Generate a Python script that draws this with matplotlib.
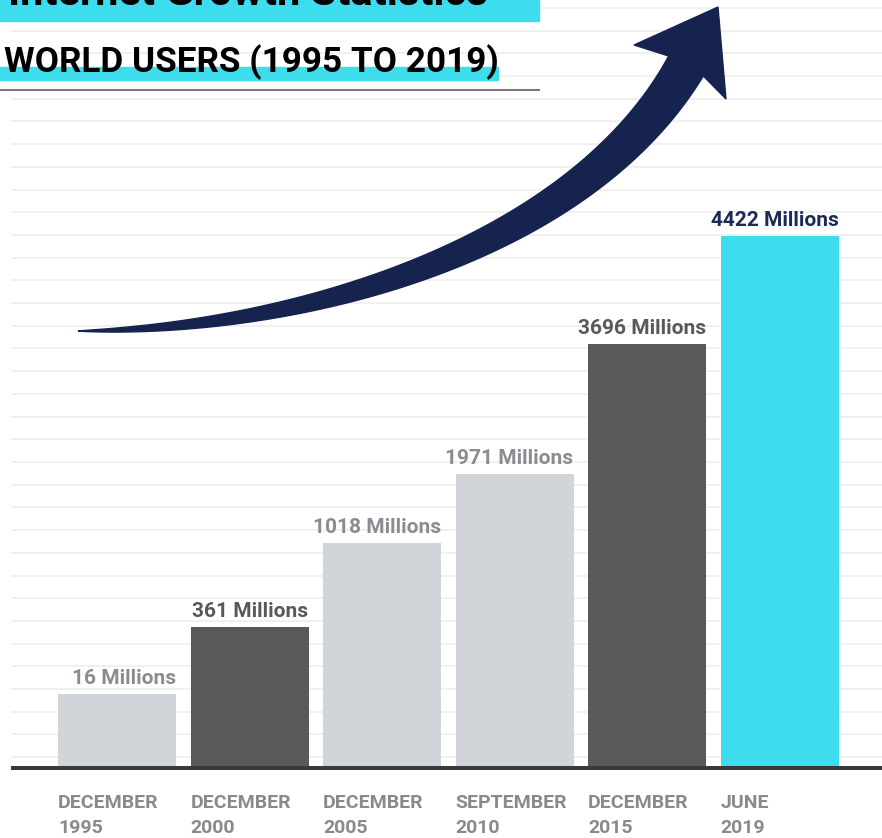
import matplotlib.pyplot as plt
import numpy as np
from matplotlib.patches import Polygon, Rectangle

plt.rcParams['font.family'] = ['Roboto', 'DejaVu Sans']

periods = ['DECEMBER\n1995', 'DECEMBER\n2000', 'DECEMBER\n2005',
           'SEPTEMBER\n2010', 'DECEMBER\n2015', 'JUNE\n2019']
users_millions = [16, 361, 1018, 1971, 3696, 4422]
# drawn heights of the infographic bars (they are not to scale with the values)
bar_heights = [74, 141, 225, 294, 424, 532]

LIGHT = '#d1d4d9'
DARK = '#58595b'
CYAN = '#3ddded'
NAVY = '#16234f'
bar_colors = [LIGHT, DARK, LIGHT, LIGHT, DARK, CYAN]
label_colors = ['#8a8c91', DARK, '#8a8c91', '#8a8c91', DARK, '#1b2a57']

W, H = 882, 838
BASE = 768  # pixel row of the bar baseline


def py(y):
    # picture row -> data y (baseline = 0, up is positive)
    return BASE - y


fig = plt.figure(figsize=(W / 100, H / 100), dpi=100)
ax = fig.add_axes([0, 0, 1, 1])
ax.set_xlim(0, W)
ax.set_ylim(BASE - H, BASE)
ax.axis('off')

# faint ruled background
for k in range(34):
    y = py(8 + 22.7 * k)
    ax.plot([12, W], [y, y], color='#efefef', lw=1.3, zorder=0)

# bars
x = 117 + 132.5 * np.arange(len(periods))
bw = 118
ax.bar(x, bar_heights, width=bw, color=bar_colors, zorder=2)

for xi, h, v, c in zip(x, bar_heights, users_millions, label_colors):
    ax.text(xi + bw / 2, h + 10, f'{v} Millions', ha='right', va='baseline',
            fontsize=15, fontweight='bold', color=c, zorder=5)

for xi, p in zip(x, periods):
    month, year = p.split('\n')
    ax.text(xi - bw / 2, py(808), month, ha='left', va='baseline',
            fontsize=14, fontweight='bold', color='#8a8a8a')
    ax.text(xi - bw / 2, py(833), year, ha='left', va='baseline',
            fontsize=14, fontweight='bold', color='#8a8a8a')

# baseline
ax.plot([11, W], [0, 0], color='#3a3a3a', lw=2.9, solid_capstyle='butt', zorder=3)

# header
ax.add_patch(Rectangle((0, py(21)), 539, 30, color=CYAN, zorder=4))
ax.text(8, py(5), 'Internet Growth Statistics', ha='left', va='baseline',
        fontsize=30, fontweight='bold', color='black', zorder=5)
ax.add_patch(Rectangle((0, py(80)), 498, 13, color=CYAN, zorder=4))
ax.text(4, py(72), 'WORLD USERS (1995 TO 2019)', ha='left', va='baseline',
        fontsize=25.3, fontweight='bold', color='black', zorder=5)
ax.plot([0, 539], [py(90), py(90)], color='#7a7a7a', lw=1.5, zorder=4)

# growth arrow: tapered bezier shaft + swept head
t = np.linspace(0, 1, 200)[:, None]
P0, P1, P2, P3 = [np.array(p, dtype=float) for p in [(78, 331), (300, 330), (580, 250), (686, 66)]]
c = (1 - t) ** 3 * P0 + 3 * (1 - t) ** 2 * t * P1 + 3 * (1 - t) * t ** 2 * P2 + t ** 3 * P3
d = 3 * (1 - t) ** 2 * (P1 - P0) + 6 * (1 - t) * t * (P2 - P1) + 3 * t ** 2 * (P3 - P2)
n = np.column_stack([-d[:, 1], d[:, 0]]) / np.linalg.norm(d, axis=1)[:, None]
w = 40 * t ** 0.8 / 2
upper = c - n * w
lower = c + n * w
head = np.array([(634, 45), (718, 7), (726, 99)])
pts = np.vstack([upper, head, lower[::-1]])
pts[:, 1] = py(pts[:, 1])
ax.add_patch(Polygon(pts, closed=True, color=NAVY, zorder=3))

fig.savefig('out.png', dpi=100)
